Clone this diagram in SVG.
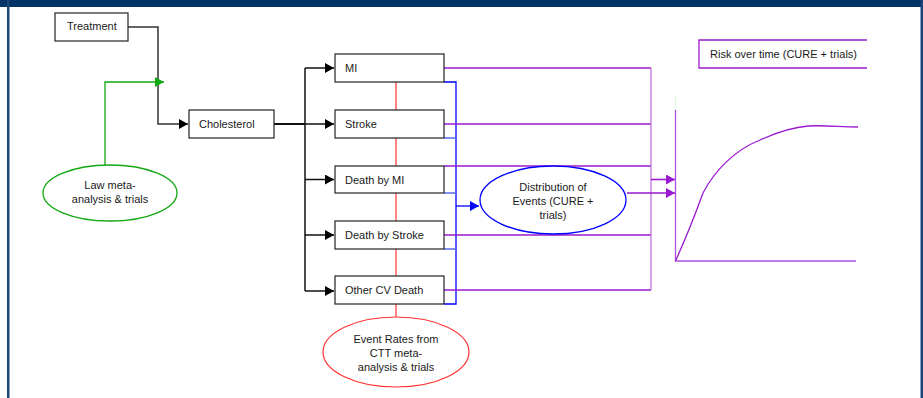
<svg xmlns="http://www.w3.org/2000/svg" width="923" height="398" viewBox="0 0 923 398">
<defs>
<style>
text{font-family:"Liberation Sans",Arial,sans-serif;font-size:11px;fill:#1a1a1a}
.box{fill:#fff;stroke:#222;stroke-width:1.2}
.blk{fill:none;stroke:#111;stroke-width:1.5}
.pur{fill:none;stroke:#9a1ad0;stroke-width:1.3}
.pur2{fill:none;stroke:#c070e0;stroke-width:1.3}
.blu{fill:none;stroke:#0000ff;stroke-width:1.3}
.red{fill:none;stroke:#ff3333;stroke-width:1.2}
.grn{fill:none;stroke:#11a811;stroke-width:1.3}
</style>
<marker id="ab" markerWidth="10" markerHeight="10" refX="9" refY="5" orient="auto" markerUnits="userSpaceOnUse"><path d="M0,0 L9,5 L0,10 z" fill="#000"/></marker>
<marker id="ag" markerWidth="10" markerHeight="10" refX="9" refY="5" orient="auto" markerUnits="userSpaceOnUse"><path d="M0,0 L9,5 L0,10 z" fill="#11a811"/></marker>
<marker id="au" markerWidth="10" markerHeight="10" refX="9" refY="5" orient="auto" markerUnits="userSpaceOnUse"><path d="M0,0 L9,5 L0,10 z" fill="#0000ff"/></marker>
<marker id="ap" markerWidth="10" markerHeight="10" refX="9" refY="5" orient="auto" markerUnits="userSpaceOnUse"><path d="M0,0 L9,5 L0,10 z" fill="#9a1ad0"/></marker>
</defs>
<rect x="0" y="0" width="923" height="398" fill="#fff"/>
<rect x="0" y="0" width="923" height="7" fill="#003366"/>
<rect x="7" y="0" width="2.5" height="398" fill="#1b4478"/>
<rect x="920.5" y="0" width="2.5" height="398" fill="#1b4478"/>

<g id="connectors">
<path class="blk" d="M128,27 H158 V124 H188" marker-end="url(#ab)" style="stroke:#333"/>
<path class="grn" d="M105,165 V82 H164" marker-end="url(#ag)"/>
<path class="blk" d="M274,124 H305" style="stroke-width:2"/>
<path class="blk" d="M305,68 V291"/>
<path class="blk" d="M305,68 H334" marker-end="url(#ab)"/>
<path class="blk" d="M305,124 H334" marker-end="url(#ab)"/>
<path class="blk" d="M305,179.5 H334" marker-end="url(#ab)"/>
<path class="blk" d="M305,235 H334" marker-end="url(#ab)"/>
<path class="blk" d="M305,291 H334" marker-end="url(#ab)"/>
<path class="red" d="M396,82 V318"/>
<path class="blu" d="M444,82 H456 V304 H444"/>
<path class="blu" d="M444,138 H456 M444,193 H456 M444,249 H456" style="stroke:#5a6ef0"/>
<path class="blu" d="M456,206 H479" marker-end="url(#au)"/>
<path class="pur" d="M444,68 H651"/>
<path class="pur" d="M444,124 H651"/>
<path class="pur" d="M444,166 H651"/>
<path class="pur" d="M444,235 H651"/>
<path class="pur" d="M444,290 H651"/>
<path class="pur2" d="M651,68 V290"/>
<path class="pur" d="M651,179.5 H675" marker-end="url(#ap)" style="stroke-width:1.6"/>
<path class="pur" d="M627,193 H675" marker-end="url(#ap)" style="stroke-width:1.6"/>
</g>

<g id="treatment"><rect class="box" x="55" y="13" width="73" height="28"/><text x="67" y="30">Treatment</text></g>
<g id="cholesterol"><rect class="box" x="189" y="110" width="85" height="28"/><text x="199" y="128">Cholesterol</text></g>
<g id="law"><ellipse cx="110" cy="193" rx="67" ry="28" fill="#fff" stroke="#11a811" stroke-width="1.3"/><text x="110" y="189" text-anchor="middle">Law meta-</text><text x="110" y="203" text-anchor="middle">analysis &amp; trials</text></g>
<g id="mi"><rect class="box" x="335" y="54" width="109" height="28"/><text x="345" y="72">MI</text></g>
<g id="stroke"><rect class="box" x="335" y="110" width="109" height="28"/><text x="345" y="128">Stroke</text></g>
<g id="deathmi"><rect class="box" x="335" y="166" width="109" height="27"/><text x="345" y="183.5">Death by MI</text></g>
<g id="deathstroke"><rect class="box" x="335" y="221" width="109" height="28"/><text x="345" y="239">Death by Stroke</text></g>
<g id="othercv"><rect class="box" x="335" y="276" width="109" height="28"/><text x="345" y="294">Other CV Death</text></g>
<g id="eventrates"><ellipse cx="396" cy="352" rx="73" ry="35" fill="#fff" stroke="#ff3333" stroke-width="1.2"/><text x="396" y="343" text-anchor="middle">Event Rates from</text><text x="396" y="357" text-anchor="middle">CTT meta-</text><text x="396" y="371" text-anchor="middle">analysis &amp; trials</text></g>
<g id="distribution"><ellipse cx="553" cy="200" rx="73" ry="34" fill="#fff" stroke="#0000ff" stroke-width="1.3"/><text x="553" y="191" text-anchor="middle">Distribution of</text><text x="553" y="205" text-anchor="middle">Events (CURE +</text><text x="553" y="219" text-anchor="middle">trials)</text></g>
<g id="risk">
<path d="M867,40 H699 V68 H867" fill="none" stroke="#9a1ad0" stroke-width="1.3"/>
<text x="710" y="58">Risk over time (CURE + trials)</text>
</g>
<g id="chart">
<path d="M675.5,96 V110" stroke="#e0f5e0" stroke-width="1.3"/>
<path d="M675.5,110 V261 H856" fill="none" stroke="#b050e0" stroke-width="1.3"/>
<path d="M675.5,261 C685,240 695,215 703,193 C715,170 735,150 760,140 C780,131 795,127 808,126 C825,125 840,127 858,127" fill="none" stroke="#9a1ad0" stroke-width="1.3"/>
</g>
</svg>
